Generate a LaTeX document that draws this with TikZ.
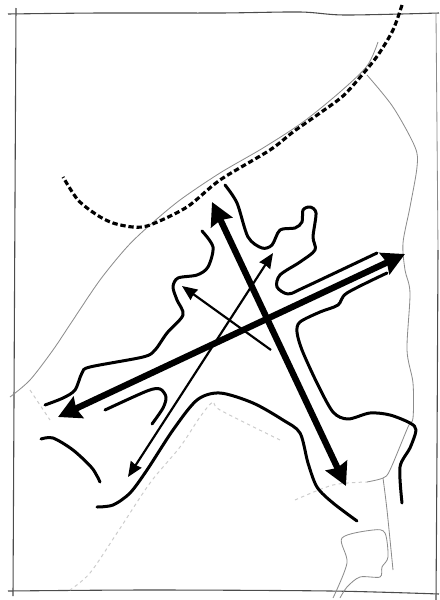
\documentclass[tikz,border=0pt]{standalone}
\usepackage{tikz}
\usetikzlibrary{arrows.meta}
\tikzset{
  sketchline/.style={line width=1.8pt, black, line cap=round, line join=round},
  frameline/.style={line width=0.65pt, black!70},
  paleline/.style={line width=0.5pt, black!45},
  fadeline/.style={line width=0.6pt, black!20, dash pattern=on 2pt off 2pt},
  pathline/.style={line width=1.9pt, black, dash pattern=on 3.2pt off 1.7pt},
  mainarrow/.style={{Stealth[length=13.5pt,width=14pt,inset=1.5pt]}-{Stealth[length=13.5pt,width=14pt,inset=1.5pt]}, line width=3.8pt, black},
  thinarrow/.style={line width=1.3pt, black},
}
\begin{document}
\begin{tikzpicture}[x=0.6pt,y=-0.6pt]
  \useasboundingbox (0,0) rectangle (439,600);
  \draw[frameline] plot[smooth] coordinates {(8,14) (100,13) (220,13) (300,12) (345,15) (439,13)};
  \draw[frameline] plot[smooth] coordinates {(16,8) (15,200) (14,400) (13,596)};
  \draw[frameline] plot[smooth] coordinates {(8,591) (150,590) (330,591) (439,594)};
  \draw[paleline] (436,14) -- (438,250);
  \draw[frameline] plot[smooth] coordinates {(438,250) (437,450) (436,600)};
  \draw[paleline] plot[smooth] coordinates {(378,42) (367,66) (340,92) (303,122) (263,148) (220,173) (180,200) (150,225) (127,247) (100,280) (73,320) (53,350) (30,380) (10,397)};
  \draw[paleline] plot[smooth] coordinates {(367,75) (393,107) (415,147) (417,167) (410,207) (403,243) (405,270) (410,293) (407,350) (413,383) (413,418) (408,427) (390,470) (383,478) (367,482)};
  \draw[paleline] plot[smooth] coordinates {(383,478) (387,510) (393,570)};
  \draw[paleline] plot[smooth] coordinates {(333,598) (347,563) (342,538) (373,530) (385,533) (388,557) (382,567) (380,577) (360,577) (347,587) (340,598)};
  \draw[fadeline] plot[smooth] coordinates {(280,440) (220,410) (213,402) (200,417) (180,447) (150,483) (117,533) (90,573) (70,590)};
  \draw[fadeline] plot[smooth] coordinates {(30,390) (50,420)};
  \draw[fadeline] plot[smooth] coordinates {(295,500) (333,485) (367,482)};
  \draw[pathline] plot[smooth] coordinates {(402,5) (393,30) (378,55) (362,75) (343,96) (320,113) (293,132) (270,150) (220,180) (187,207) (150,225) (133,227) (113,223) (97,215) (78,200) (63,177)};
  \draw[sketchline] plot[smooth] coordinates {(225,185) (237,203) (248,237) (262,248) (272,245) (280,230) (295,228) (302,222) (303,210) (310,207) (316,213) (313,237) (315,250) (300,262) (280,275) (277,287) (288,294) (303,288) (377,253)};
  \draw[sketchline] plot[smooth] coordinates {(202,231) (213,247) (208,267) (197,275) (178,278) (173,287) (177,300) (183,315) (167,333) (155,350) (143,357) (90,367) (82,373) (75,390) (63,398) (45,405)};
  \draw[sketchline] plot[smooth] coordinates {(387,273) (347,293) (338,305) (320,312) (300,322) (297,332) (302,350) (317,383) (333,412) (348,419) (370,413) (390,415) (410,423) (416,430) (410,448) (400,467) (402,503)};
  \draw[sketchline] plot[smooth] coordinates {(97,507) (113,505) (130,493) (147,470) (173,430) (197,400) (220,393) (253,403) (283,420) (300,433) (308,463) (317,487) (333,503) (357,521)};
  \draw[sketchline] plot[smooth] coordinates {(105,410) (147,391) (160,389) (166,397) (163,408) (152,424)};
  \draw[sketchline] plot[smooth] coordinates {(41,439) (53,438) (73,450) (92,468) (100,482)};
  \coordinate (crossw) at (58,417);
  \coordinate (crosse) at (405,254);
  \coordinate (crossn) at (212,202);
  \coordinate (crosss) at (346,486);
  \coordinate (forkne) at (273,253);
  \coordinate (forksw) at (128,477);
  \coordinate (branchs) at (271,350);
  \coordinate (branchn) at (182,286);
  \draw[mainarrow] (crossw) -- (crosse);
  \draw[mainarrow] (crossn) -- (crosss);
  \draw[{Stealth[length=9pt,width=7.5pt,inset=0.5pt]}-{Stealth[length=9pt,width=7.5pt,inset=0.5pt]}, thinarrow] (forksw) -- (forkne);
  \draw[-{Stealth[length=9pt,width=7.5pt,inset=0.5pt]}, thinarrow] (branchs) -- (branchn);
\end{tikzpicture}
\end{document}
